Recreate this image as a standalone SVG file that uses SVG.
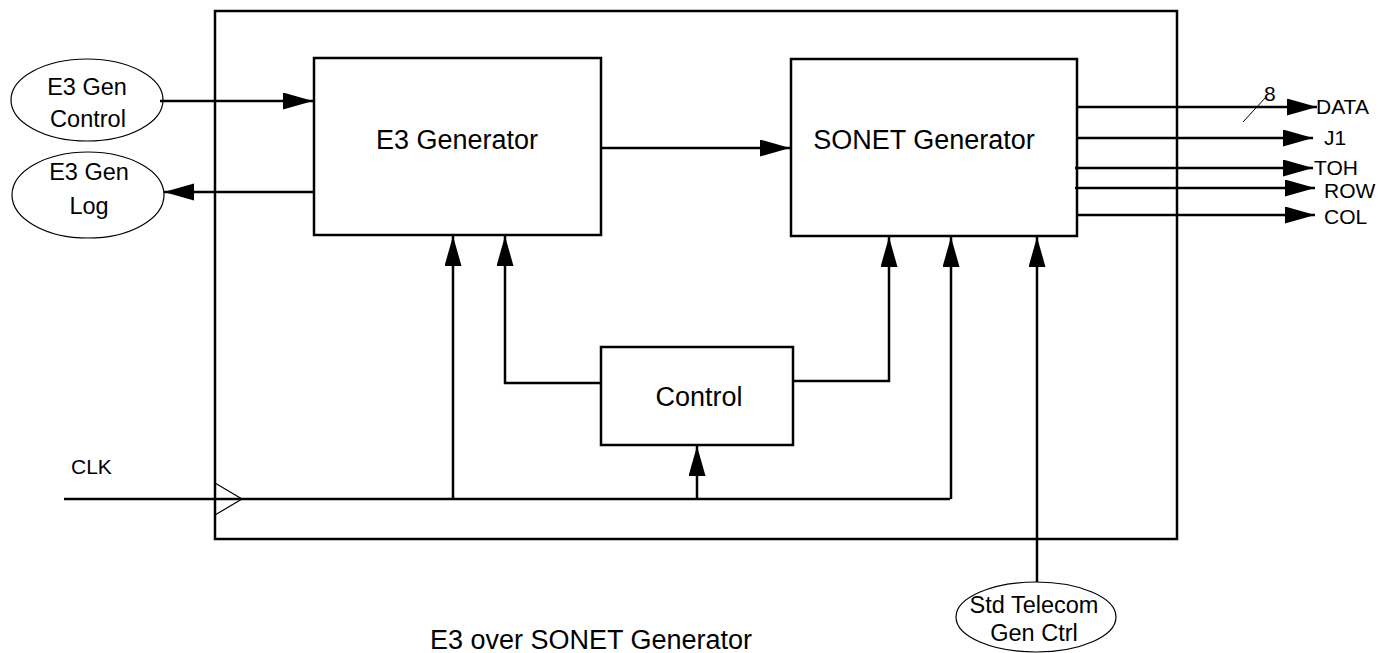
<svg xmlns="http://www.w3.org/2000/svg" width="1380" height="653" viewBox="0 0 1380 653">
<style>
.box{fill:#fff;stroke:#000;stroke-width:2.5}
.ell{fill:#fff;stroke:#000;stroke-width:1.2}
.ln{fill:none;stroke:#000;stroke-width:2.5}
.t{font-family:"Liberation Sans",Arial,sans-serif;font-size:21px;fill:#000}
.te{font-family:"Liberation Sans",Arial,sans-serif;font-size:23.5px;fill:#000}
.tb{font-family:"Liberation Sans",Arial,sans-serif;font-size:27px;fill:#000}
</style>
<defs>
<marker id="ah" markerUnits="userSpaceOnUse" markerWidth="31" markerHeight="18" refX="30" refY="8.5" orient="auto">
<path d="M0,0 L30,8.5 L0,17 Z" fill="#000"/>
</marker>
</defs>
<g id="outer"><rect class="box" x="215" y="11" width="962" height="528"/></g>
<g id="e3gen"><rect class="box" x="314" y="58" width="287" height="177"/><text class="tb" x="457" y="149" text-anchor="middle">E3 Generator</text></g>
<g id="sonet"><rect class="box" x="791" y="59" width="286" height="177"/><text class="tb" x="924" y="149" text-anchor="middle">SONET Generator</text></g>
<g id="control"><rect class="box" x="601" y="347" width="192" height="98"/><text class="tb" x="699" y="406" text-anchor="middle">Control</text></g>
<g id="e3ctl"><ellipse class="ell" cx="87" cy="100" rx="76" ry="41"/><text class="te" x="87" y="95" text-anchor="middle">E3 Gen</text><text class="te" x="88" y="127" text-anchor="middle">Control</text></g>
<g id="e3log"><ellipse class="ell" cx="88" cy="195" rx="76" ry="43"/><text class="te" x="89" y="180" text-anchor="middle">E3 Gen</text><text class="te" x="89" y="214" text-anchor="middle">Log</text></g>
<g id="stdtel"><ellipse class="ell" cx="1036" cy="617" rx="80" ry="35"/><text class="te" x="1034" y="613" text-anchor="middle">Std Telecom</text><text class="te" x="1034" y="641" text-anchor="middle">Gen Ctrl</text></g>
<g id="connectors">
<line class="ln" x1="160" y1="101" x2="313" y2="101" marker-end="url(#ah)"/>
<line class="ln" x1="314" y1="192" x2="164" y2="192" marker-end="url(#ah)"/>
<line class="ln" x1="601" y1="148" x2="790" y2="148" marker-end="url(#ah)"/>
<line class="ln" x1="1077" y1="107" x2="1317" y2="107" marker-end="url(#ah)"/>
<line class="ln" x1="1077" y1="138" x2="1313" y2="138" marker-end="url(#ah)"/>
<line class="ln" x1="1075" y1="168" x2="1313" y2="168" marker-end="url(#ah)"/>
<line class="ln" x1="1075" y1="188" x2="1315" y2="188" marker-end="url(#ah)"/>
<line class="ln" x1="1077" y1="215" x2="1315" y2="215" marker-end="url(#ah)"/>
<line x1="1243" y1="122" x2="1266" y2="97" stroke="#000" stroke-width="1"/>
<polyline class="ln" points="64,499 950,499"/>
<polyline fill="none" stroke="#000" stroke-width="1.2" points="215,483 242,499 215,515"/>
<line class="ln" x1="453" y1="499" x2="453" y2="236" marker-end="url(#ah)"/>
<polyline class="ln" points="601,383 505,383 505,236" marker-end="url(#ah)"/>
<polyline class="ln" points="793,381 889,381 889,237" marker-end="url(#ah)"/>
<line class="ln" x1="951" y1="499" x2="951" y2="237" marker-end="url(#ah)"/>
<line class="ln" x1="1037" y1="582" x2="1037" y2="237" marker-end="url(#ah)"/>
<line class="ln" x1="697" y1="499" x2="697" y2="446" marker-end="url(#ah)"/>
</g>
<g id="labels">
<text class="t" x="1264" y="101">8</text>
<text class="t" x="1316" y="114">DATA</text>
<text class="t" x="1324" y="145">J1</text>
<text class="t" x="1314" y="175">TOH</text>
<text class="t" x="1324" y="198">ROW</text>
<text class="t" x="1324" y="224">COL</text>
<text class="t" x="71" y="474">CLK</text>
<text class="tb" x="591" y="649" text-anchor="middle">E3 over SONET Generator</text>
</g>
</svg>
